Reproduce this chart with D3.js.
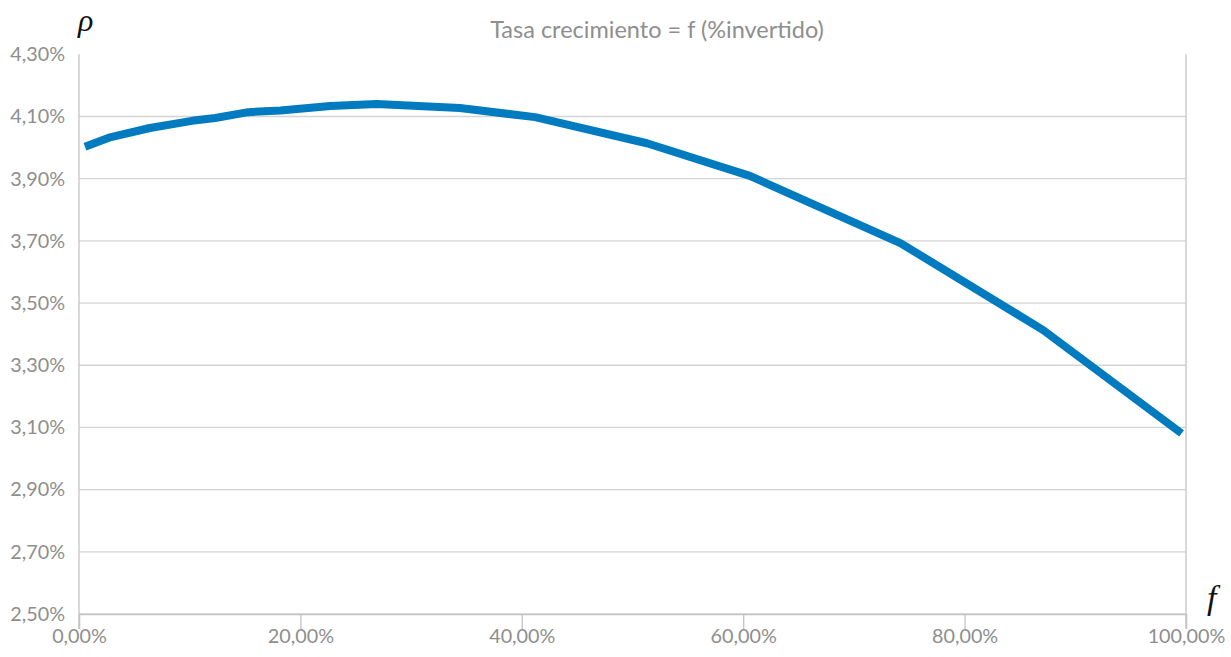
<!DOCTYPE html>
<html>
<head>
<meta charset="utf-8">
<script src="https://cdn.jsdelivr.net/npm/d3@7/dist/d3.min.js"></script>
<style>
  html, body { margin: 0; padding: 0; background: #fff; }
  svg { display: block; }
</style>
</head>
<body>
<svg id="chart" width="1231" height="657"></svg>
<script>
// Data (fractions): x = % invested, y = growth rate
const xValues = [0.0054, 0.027, 0.064, 0.102, 0.123, 0.153, 0.182, 0.227, 0.269, 0.344, 0.412, 0.513, 0.606, 0.742, 0.871, 0.996];
const yValues = [0.04003, 0.04032, 0.04063, 0.04086, 0.04095, 0.04114, 0.04119, 0.04134, 0.04140, 0.04127, 0.04098, 0.04014, 0.03909, 0.03693, 0.03413, 0.03081];
const xTicks = [0, 0.2, 0.4, 0.6, 0.8, 1.0];
const yTicks = [0.025, 0.027, 0.029, 0.031, 0.033, 0.035, 0.037, 0.039, 0.041, 0.043];
const titleText = "Tasa crecimiento = f (%invertido)";

const svg = d3.select("#chart");
const x = d3.scaleLinear().domain([0, 1]).range([79, 1186]);
const y = d3.scaleLinear().domain([0.025, 0.043]).range([614, 54.3]);

const fmt = v => (v * 100).toFixed(2).replace(".", ",") + "%";
const labelColor = "#8e8e8e";
const font = "Lato, 'Open Sans', sans-serif";

// Gridlines (no gridline at the top value)
svg.append("g").selectAll("line")
  .data(yTicks.filter(t => t < 0.0429))
  .join("line")
  .attr("x1", x(0)).attr("x2", x(1))
  .attr("y1", d => y(d)).attr("y2", d => y(d))
  .attr("stroke", "#d4d4d4").attr("stroke-width", 1.3);

// Left and right vertical lines
[0, 1].forEach(v => {
  svg.append("line")
    .attr("x1", x(v)).attr("x2", x(v))
    .attr("y1", y(0.043)).attr("y2", y(0.025) + 15)
    .attr("stroke", "#c4c4c4").attr("stroke-width", 1.3);
});

// X axis
const xAxis = d3.axisBottom(x).tickValues(xTicks).tickFormat(fmt).tickSize(15).tickPadding(3);
const gx = svg.append("g").attr("transform", `translate(0,${y(0.025)})`).call(xAxis);
gx.select(".domain").attr("stroke", "#c4c4c4").attr("stroke-width", 1.3);
gx.selectAll(".tick line").attr("stroke", "#c4c4c4").attr("stroke-width", 1.3);
gx.selectAll(".tick text").attr("fill", labelColor).attr("font-family", font).attr("font-size", 19.8).attr("dy", "0.55em");

// Y axis
const yAxis = d3.axisLeft(y).tickValues(yTicks).tickFormat(fmt).tickSize(0).tickPadding(14);
const gy = svg.append("g").attr("transform", `translate(${x(0)},0)`).call(yAxis);
gy.select(".domain").remove();
gy.selectAll(".tick text").attr("fill", labelColor).attr("font-family", font).attr("font-size", 19.8);

// Line
const pts = xValues.map((v, i) => [v, yValues[i]]);
svg.append("path")
  .datum(pts)
  .attr("fill", "none")
  .attr("stroke", "#007bbf")
  .attr("stroke-width", 8)
  .attr("stroke-linejoin", "round")
  .attr("d", d3.line().x(d => x(d[0])).y(d => y(d[1])));

// Title
svg.append("text")
  .attr("x", 657).attr("y", 38)
  .attr("text-anchor", "middle")
  .attr("fill", labelColor)
  .attr("font-family", font)
  .attr("font-size", 23.5)
  .text(titleText);

// Axis symbols
svg.append("text")
  .attr("x", 78).attr("y", 31)
  .attr("font-family", "'Liberation Serif', 'DejaVu Serif', serif")
  .attr("font-style", "italic")
  .attr("font-size", 32)
  .attr("fill", "#111")
  .text("ρ");
svg.append("text")
  .attr("x", 1207).attr("y", 609)
  .attr("font-family", "'Liberation Serif', 'DejaVu Serif', serif")
  .attr("font-style", "italic")
  .attr("font-size", 34)
  .attr("fill", "#111")
  .text("f");
</script>
</body>
</html>
